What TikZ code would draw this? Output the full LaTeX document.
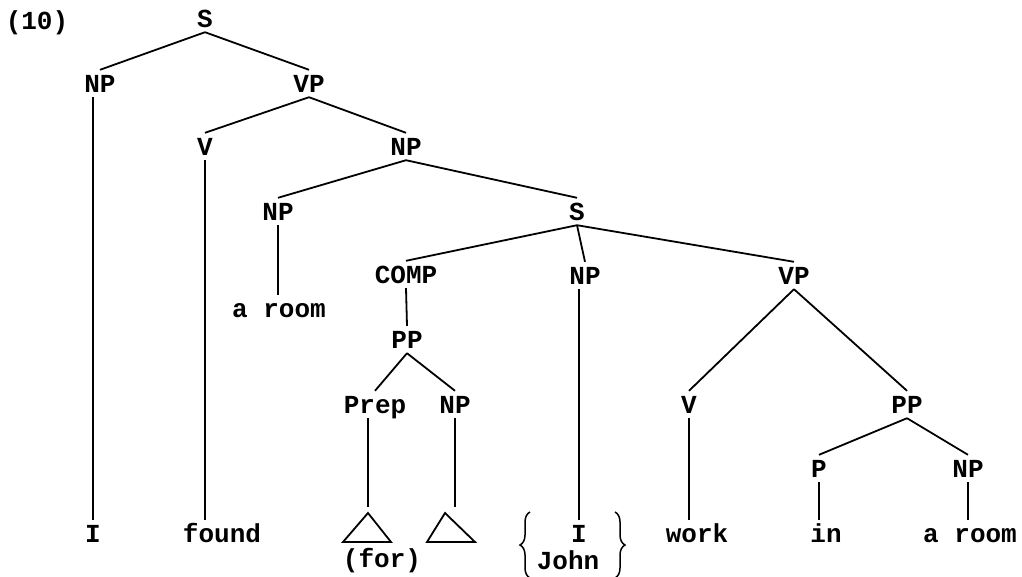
\documentclass[tikz,border=0pt]{standalone}
\usepackage{fontspec}
\setmonofont{Liberation Mono}
\usetikzlibrary{decorations.pathreplacing}
\begin{document}
\begin{tikzpicture}[x=1pt,y=-1pt,
  lbl/.style={anchor=base, font=\ttfamily\bfseries\fontsize{26}{30}\selectfont,
    text height=17pt, text depth=0pt, inner xsep=2pt, inner ysep=5pt},
  edge/.style={line width=1.8pt},
  brc/.style={decorate, decoration={brace, amplitude=10pt}, line width=1.5pt}]
\useasboundingbox (0,0) rectangle (1022,576);
\node [lbl] (num) at (37,29) {(10)};
\node [lbl] (s1) at (205,27) {S};
\node [lbl] (np1) at (100,92) {NP};
\node [lbl] (vp1) at (309,92) {VP};
\node [lbl] (v1) at (205,155) {V};
\node [lbl] (np2) at (406,155) {NP};
\node [lbl] (np3) at (278,220) {NP};
\node [lbl] (s2) at (577,220) {S};
\node [lbl] (comp) at (406,283) {COMP};
\node [lbl] (np4) at (585,284) {NP};
\node [lbl] (vp2) at (794,284) {VP};
\node [lbl] (room1) at (279,317) {a room};
\node [lbl] (pp1) at (407,348) {PP};
\node [lbl] (prep) at (375,413) {Prep};
\node [lbl] (np5) at (455,413) {NP};
\node [lbl] (v2) at (689,413) {V};
\node [lbl] (pp2) at (907,413) {PP};
\node [lbl] (p) at (819,477) {P};
\node [lbl] (np6) at (968,477) {NP};
\node [lbl] (i1) at (93,542) {I};
\node [lbl] (found) at (222,542) {found};
\node [lbl] (i2) at (579,542) {I};
\node [lbl] (john) at (568,569) {John};
\node [lbl] (for) at (382,567) {(for)};
\node [lbl] (work) at (697,542) {work};
\node [lbl] (in) at (826,542) {in};
\node [lbl] (room2) at (970,542) {a room};
\coordinate (t1) at (368,513);
\coordinate (t2) at (445,513);

\draw [edge] (s1.south) -- (np1.north);
\draw [edge] (s1.south) -- (vp1.north);
\draw [edge] (vp1.south) -- (v1.north);
\draw [edge] (vp1.south) -- (np2.north);
\draw [edge] (np2.south) -- (np3.north);
\draw [edge] (np2.south) -- (s2.north);
\draw [edge] (s2.south) -- (comp.north);
\draw [edge] (s2.south) -- (np4.north);
\draw [edge] (s2.south) -- (vp2.north);
\draw [edge] (comp.south) -- (pp1.north);
\draw [edge] (pp1.south) -- (prep.north);
\draw [edge] (pp1.south) -- (np5.north);
\draw [edge] (vp2.south) -- (v2.north);
\draw [edge] (vp2.south) -- (pp2.north);
\draw [edge] (pp2.south) -- (p.north);
\draw [edge] (pp2.south) -- (np6.north);
\draw [edge] (np1.south -| i1) -- (i1.north);
\draw [edge] (v1.south) -- (v1.south |- found.north);
\draw [edge] (np3.south) -- (np3.south |- room1.north);
\draw [edge] (np4.south -| i2) -- (i2.north);
\draw [edge] (v2.south) -- (v2.south |- work.north);
\draw [edge] (p.south) -- (p.south |- in.north);
\draw [edge] (np6.south) -- (np6.south |- room2.north);
\draw [edge, shorten >=6pt] (prep.south -| t1) -- (t1);
\draw [edge, shorten >=6pt] (np5.south) -- (np5.south |- t2);
\draw [edge] (t1) -- ++(-25,29) -- ++(48,0) -- cycle;
\draw [edge] (t2) -- ++(-18,29) -- ++(48,0) -- cycle;
\draw [brc] (530,578) -- (530,512);
\draw [brc] (615,512) -- (615,578);
\end{tikzpicture}
\end{document}
